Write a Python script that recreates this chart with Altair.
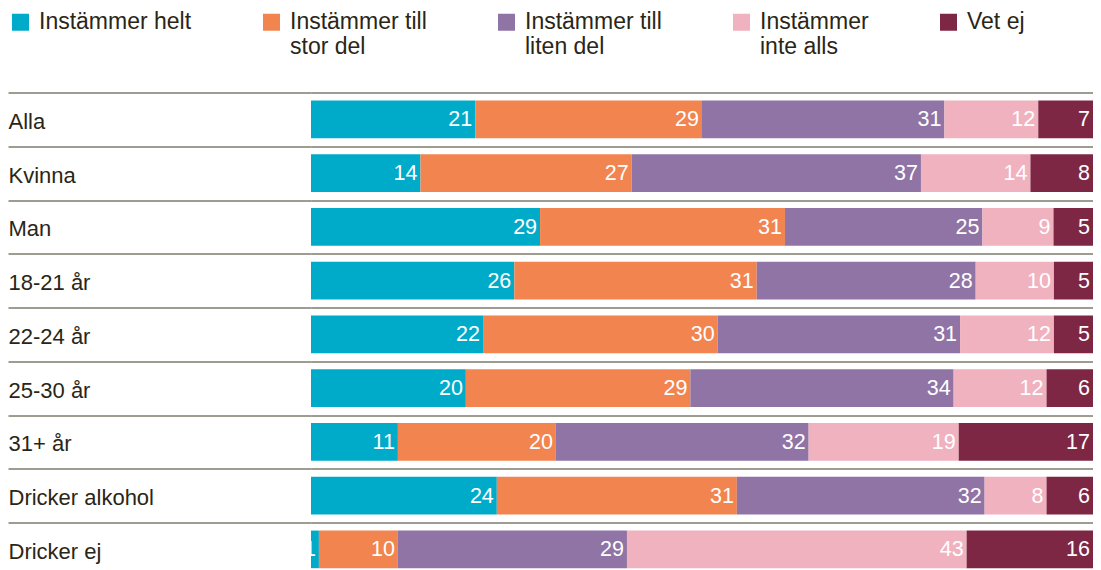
import altair as alt
import pandas as pd

groups = ["Alla", "Kvinna", "Man", "18-21 år", "22-24 år", "25-30 år",
          "31+ år", "Dricker alkohol", "Dricker ej"]
answers = ["Instämmer helt", "Instämmer till stor del", "Instämmer till liten del",
           "Instämmer inte alls", "Vet ej"]
helt = [21, 14, 29, 26, 22, 20, 11, 24, 1]
stor = [29, 27, 31, 31, 30, 29, 20, 31, 10]
liten = [31, 37, 25, 28, 31, 34, 32, 32, 29]
inte = [12, 14, 9, 10, 12, 12, 19, 8, 43]
vetej = [7, 8, 5, 5, 5, 6, 17, 6, 16]
colors = ["#00abca", "#f2844f", "#8f74a5", "#f1b2c0", "#7e2744"]
legend_lines = {
    "Instämmer helt": ["Instämmer helt", ""],
    "Instämmer till stor del": ["Instämmer till", "stor del"],
    "Instämmer till liten del": ["Instämmer till", "liten del"],
    "Instämmer inte alls": ["Instämmer", "inte alls"],
    "Vet ej": ["Vet ej", ""],
}

series = [helt, stor, liten, inte, vetej]
rows = []
for gi, g in enumerate(groups):
    for ai, a in enumerate(answers):
        rows.append({"group": g, "answer": a, "order": ai, "value": series[ai][gi]})
df = pd.DataFrame(rows)

FONT = "Liberation Sans"
TEXT = "#2a2617"
LINE = "#3e3924"

expr = ""
for k, lines in legend_lines.items():
    arr = "[" + ",".join("'" + s + "'" for s in lines) + "]"
    expr += f"datum.label == '{k}' ? {arr} : "
expr += "datum.label"

base = alt.Chart(df).transform_joinaggregate(
    total="sum(value)", groupby=["group"]
).transform_window(
    cum="sum(value)", sort=[alt.SortField("order")], groupby=["group"], frame=[None, 0]
).transform_calculate(
    end="datum.cum / datum.total",
    start="(datum.cum - datum.value) / datum.total",
)

yscale = alt.Scale(domain=groups, range=[0, 483.75], paddingInner=0, paddingOuter=0)

bars = base.mark_bar(height={"band": 0.7}).encode(
    y=alt.Y("group:N", sort=groups, scale=yscale, title=None,
            axis=alt.Axis(domain=False, tickBand="extent", ticks=True, tickSize=303,
                          tickColor=LINE, tickWidth=1, grid=True, gridColor=LINE,
                          gridWidth=1, labelAlign="left", labelPadding=0,
                          labelBaseline="middle", labelOffset=2,
                          labelFont=FONT, labelFontSize=22, labelColor=TEXT,
                          labelLimit=300)),
    x=alt.X("start:Q", scale=alt.Scale(domain=[0, 1], nice=False), axis=None),
    x2="end:Q",
    color=alt.Color("answer:N", scale=alt.Scale(domain=answers, range=colors),
                    legend=alt.Legend(title=None, orient="none", legendX=-302, legendY=-82,
                                      direction="horizontal", columns=5,
                                      symbolType="square", symbolSize=289,
                                      symbolStrokeWidth=0, symbolOpacity=1,
                                      labelFont=FONT, labelFontSize=23, labelColor=TEXT,
                                      labelOffset=7, columnPadding=68, labelLimit=400,
                                      labelBaseline="middle", labelExpr=expr)),
)

labels = base.mark_text(align="right", baseline="middle", dx=-3, dy=1, color="white",
                        font=FONT, fontSize=21.5).encode(
    y=alt.Y("group:N", sort=groups, scale=yscale),
    x=alt.X("end:Q"),
    text=alt.Text("value:Q"),
)

chart = alt.layer(bars, labels).properties(
    width=782, height=477,
    autosize=alt.AutoSizeParams(type="none"),
    padding={"left": 303, "top": 84.5, "right": 0, "bottom": 0},
).configure_view(stroke=None)

chart.save("out.html", embed_options={"renderer": "svg", "actions": False})
